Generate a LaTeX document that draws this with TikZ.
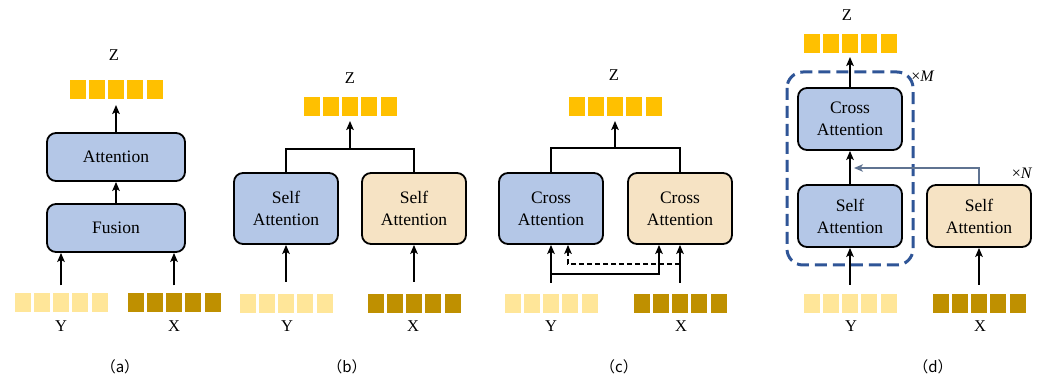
\documentclass[tikz,border=0pt]{standalone}
\usepackage{fontspec}
\setmainfont{Liberation Serif}
\newfontfamily\cjk{Noto Sans CJK SC}
\usetikzlibrary{arrows.meta}
\definecolor{zgold}{RGB}{255,192,0}
\definecolor{ylight}{RGB}{255,230,153}
\definecolor{xdark}{RGB}{191,144,0}
\definecolor{boxblue}{RGB}{180,199,231}
\definecolor{boxtan}{RGB}{246,227,196}
\definecolor{frameblue}{RGB}{47,85,151}
\definecolor{slate}{RGB}{95,115,145}
% a row of five feature squares, named #1-1 ... #1-5, centred at (#2,#3)
\newcommand\tokrow[4]{%
  \foreach \i in {1,...,5}{\node[tok,fill=#4] (#1-\i) at ({#2+(\i-3)*19.25},#3) {};}%
  \coordinate (#1) at (#2,#3);}
\begin{document}
\begin{tikzpicture}[x=1pt,y=-1pt,
  box/.style={draw=black,line width=1.8pt,rounded corners=9pt,inner sep=0pt,
    align=center,font=\fontsize{17.5}{22}\selectfont},
  bluebox/.style={box,fill=boxblue},
  tanbox/.style={box,fill=boxtan},
  tok/.style={minimum width=16pt,minimum height=19pt,inner sep=0pt,outer sep=0pt},
  arr/.style={line width=2pt,-{Stealth[length=9pt,width=7.5pt,inset=2pt]}},
  lnk/.style={line width=2pt},
  garr/.style={line width=1.5pt,draw=slate,-{Stealth[length=9pt,width=7.5pt,inset=2.5pt]}},
  lbl/.style={font=\fontsize{16.5}{18}\selectfont,inner sep=0pt},
  rep/.style={font=\fontsize{16}{18}\selectfont,inner sep=0pt},
  captext/.style={font=\fontsize{15}{18}\selectfont,inner sep=0pt},
]
\useasboundingbox (0,0) rectangle (1044,379);

% ---------- (a) fusion then attention ----------
\tokrow{zA}{116}{89.5}{zgold}
\tokrow{yA}{61}{303}{ylight}
\tokrow{xA}{174}{303}{xdark}
\node[lbl] (lzA) at (114,55) {Z};
\node[lbl] (lyA) at (61,326) {Y};
\node[lbl] (lxA) at (174,326) {X};
\node[bluebox,minimum width=138pt,minimum height=48pt] (att) at (116,157) {Attention};
\node[bluebox,minimum width=138pt,minimum height=48pt] (fus) at (116,228) {Fusion};
\draw[arr] (att.north) -- ([yshift=-6pt]zA-3.south -| att.north);
\draw[arr] (fus.north) -- (att.south);
\draw[arr] ([yshift=8pt]yA-3.north) -- (fus.south -| yA);
\draw[arr] ([yshift=8pt]xA-3.north) -- (fus.south -| xA);
\node[captext] (capA) at (120,367) {\cjk{（}a\cjk{）}};

% ---------- (b) two self-attention branches ----------
\tokrow{zB}{350}{106.5}{zgold}
\tokrow{yB}{286}{303.5}{ylight}
\tokrow{xB}{414}{303.5}{xdark}
\node[lbl] (lzB) at (350,78) {Z};
\node[lbl] (lyB) at (287,326) {Y};
\node[lbl] (lxB) at (413,326) {X};
\node[bluebox,minimum width=104pt,minimum height=71pt] (bl) at (286,208.5) {Self\\Attention};
\node[tanbox,minimum width=104pt,minimum height=71pt] (br) at (414,208.5) {Self\\Attention};
\coordinate (bj) at (350,149);
\draw[lnk] (bl.north) |- (bj) -| (br.north);
\draw[arr] (bj) -- ([yshift=-5pt]zB-3.south);
\draw[arr] ([yshift=12pt]yB-3.north) -- (bl.south -| yB);
\draw[arr] ([yshift=12pt]xB-3.north) -- (br.south -| xB);
\node[captext] (capB) at (347,367) {\cjk{（}b\cjk{）}};

% ---------- (c) two cross-attention branches ----------
\tokrow{zC}{615}{106.5}{zgold}
\tokrow{yC}{551}{303.5}{ylight}
\tokrow{xC}{680}{303.5}{xdark}
\node[lbl] (lzC) at (614,75) {Z};
\node[lbl] (lyC) at (551,326) {Y};
\node[lbl] (lxC) at (681,326) {X};
\node[bluebox,minimum width=104pt,minimum height=71pt] (cl) at (551,208.5) {Cross\\Attention};
\node[tanbox,minimum width=104pt,minimum height=71pt] (cr) at (680,208.5) {Cross\\Attention};
\coordinate (cj) at (615,148);
\draw[lnk] (cl.north) |- (cj) -| (cr.north);
\draw[arr] (cj) -- ([yshift=-5pt]zC-3.south -| cj);
\coordinate (cyh) at (551,274);
\coordinate (cxh) at (680,264);
\draw[arr] ([yshift=11pt]yC-3.north) -- (cl.south -| yC);
\draw[arr] ([yshift=11pt]xC-3.north) -- (cr.south -| xC);
\draw[arr] (cyh) -| ([xshift=-21pt]cr.south);
\draw[arr,line width=1.6pt,dash pattern=on 5pt off 3pt] (cxh) -| ([xshift=17pt]cl.south);
\node[captext] (capC) at (619,367) {\cjk{（}c\cjk{）}};

% ---------- (d) stacked self/cross attention ----------
\tokrow{zD}{850}{43.5}{zgold}
\tokrow{yD}{850}{303.5}{ylight}
\tokrow{xD}{979}{303.5}{xdark}
\node[lbl] (lzD) at (847,15) {Z};
\node[lbl] (lyD) at (851,326) {Y};
\node[lbl] (lxD) at (980,326) {X};
\node[bluebox,minimum width=104pt,minimum height=62pt] (dc) at (850,119) {Cross\\Attention};
\node[bluebox,minimum width=104pt,minimum height=62pt] (ds) at (850,216) {Self\\Attention};
\node[tanbox,minimum width=104pt,minimum height=62pt] (dt) at (979,216) {Self\\Attention};
\draw[frameblue,line width=3pt,dash pattern=on 12pt off 6pt,rounded corners=16pt]
  (787,72) rectangle (913,265);
\node[rep] (repM) at (923,76) {×\textit{M}};
\node[rep] (repN) at (1022,173) {×\textit{N}};
\draw[arr] (dc.north) -- ([yshift=-4pt]zD-3.south -| dc.north);
\draw[arr] (ds.north) -- (dc.south);
\draw[arr] ([yshift=9pt]yD-3.north) -- (ds.south -| yD);
\draw[arr] ([yshift=9pt]xD-3.north) -- (dt.south -| xD);
\coordinate (dj) at (854,168);
\draw[garr] (dt.north) |- (dj);
\node[captext] (capD) at (933,367) {\cjk{（}d\cjk{）}};
\end{tikzpicture}
\end{document}
